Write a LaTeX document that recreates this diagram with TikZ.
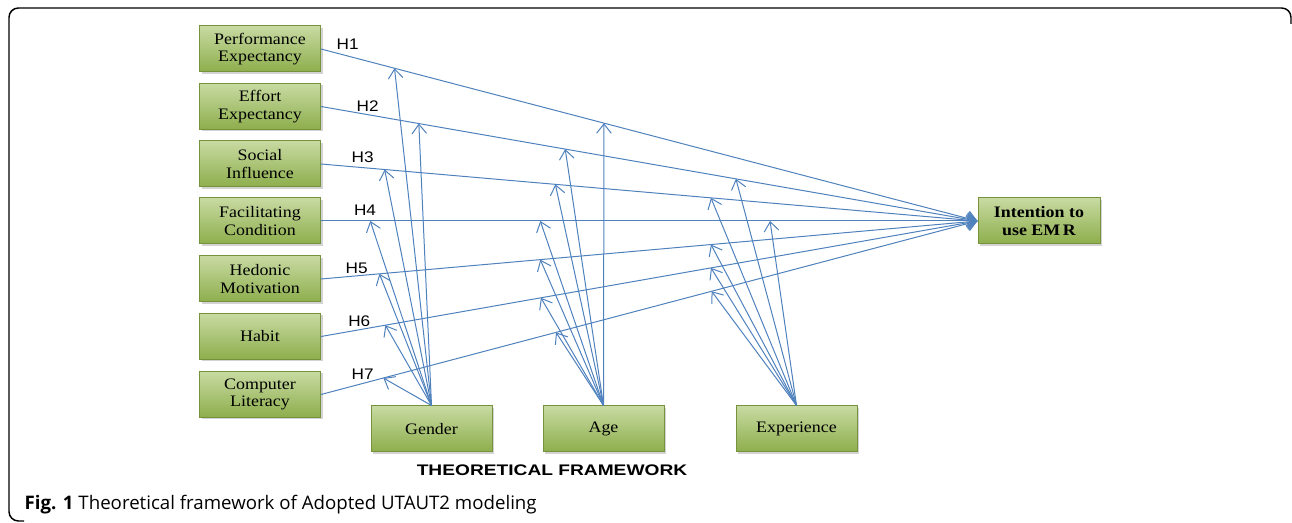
\documentclass[tikz,border=0pt]{standalone}
\usepackage{fontspec}
\setmainfont{Liberation Serif}[FakeStretch=1.12]
\newfontfamily\hfont{Liberation Sans}[FakeStretch=1.12]
\newfontfamily\titlefont{Liberation Sans}[FakeStretch=1.25]
\newfontfamily\capfont{Open Sans}
\usetikzlibrary{arrows.meta, shadows}

\definecolor{boxtop}{RGB}{200,218,162}
\definecolor{boxbot}{RGB}{141,174,76}
\definecolor{boxline}{RGB}{118,146,60}
\definecolor{linkblue}{RGB}{79,129,189}

\tikzset{
    factor/.style={draw=boxline, line width=0.75pt, top color=boxtop, bottom color=boxbot,
        minimum width=90.75pt, minimum height=34.5pt, inner sep=0pt, align=center,
        font=\fontsize{12}{13.3}\selectfont,
        drop shadow={opacity=0.35, shadow xshift=1.5pt, shadow yshift=-1.5pt}},
    hline/.style={linkblue, line width=0.75pt, -{Straight Barb[length=7pt, width=11pt]}},
    hlabel/.style={font=\hfont\fontsize{11.5}{13}\selectfont}
}

\begin{document}
\begin{tikzpicture}[x=0.75pt, y=-0.75pt]
    \useasboundingbox (0,0) rectangle (1292,523);

    % OUTER FRAME
    \draw[line width=1.1pt, rounded corners=7pt] (1291,24) -- (1291,8) -- (9,8) -- (9,521) -- (24,521);

    % DETERMINANTS
    \foreach \n/\y/\txt in {perf/49/{Performance\\Expectancy}, effort/106.5/{Effort\\Expectancy},
                            social/164/{Social\\Influence}, facil/221/{Facilitating\\Condition},
                            hedon/279/{Hedonic\\Motivation}, habit/336.5/{Habit},
                            comp/394.5/{Computer\\Literacy}} {
        \node[factor] (\n) at (260,\y) {\txt};
    }

    % MODERATORS
    \node[factor] (gender) at (431.5,429) {Gender};
    \node[factor] (age) at (603.5,429) {Age};
    \node[factor] (exper) at (796.5,429) {Experience};

    % OUTCOME
    \node[factor, minimum width=91.5pt, font=\fontsize{12}{13.3}\selectfont\bfseries] (intent) at (1039,221) {Intention to\\use EM\,R};

    % HYPOTHESIS PATHS H1--H7
    \foreach \n/\g/\a/\e in {perf/0.112/0.431/0.5, effort/0.149/0.372/0.632,
                             social/0.097/0.357/0.594, facil/0.075/0.334/0.684,
                             hedon/0.089/0.334/0.594, habit/0.098/0.335/0.594,
                             comp/0.095/0.358/0.595} {
        \draw[hline] (\n.east) -- (intent.west)
            coordinate[pos=\g] (\n-g) coordinate[pos=\a] (\n-a) coordinate[pos=\e] (\n-e);
    }

    % MODERATING EFFECTS
    \foreach \n in {perf, effort, social, facil, hedon, habit, comp} {
        \draw[hline] (gender.north) -- (\n-g);
        \draw[hline] (age.north) -- (\n-a);
    }
    \foreach \n in {effort, social, facil, hedon, habit, comp} {
        \draw[hline] (exper.north) -- (\n-e);
    }

    % PATH LABELS
    \foreach \t/\x/\y in {H1/347.7/44, H2/367.7/106, H3/362.7/157.3, H4/365/210,
                          H5/356.7/268.3, H6/359.3/321.7, H7/362.7/374} {
        \node[hlabel] (lab\t) at (\x,\y) {\t};
    }

    % TITLE AND CAPTION
    \node[font=\titlefont\bfseries\fontsize{11.5}{13}\selectfont] (title) at (552,470) {THEORETICAL FRAMEWORK};
    \node[anchor=base west, font=\capfont\fontsize{14}{16}\selectfont] (caption) at (20,509)
        {\textbf{Fig. 1} Theoretical framework of Adopted UTAUT2 modeling};
\end{tikzpicture}
\end{document}
